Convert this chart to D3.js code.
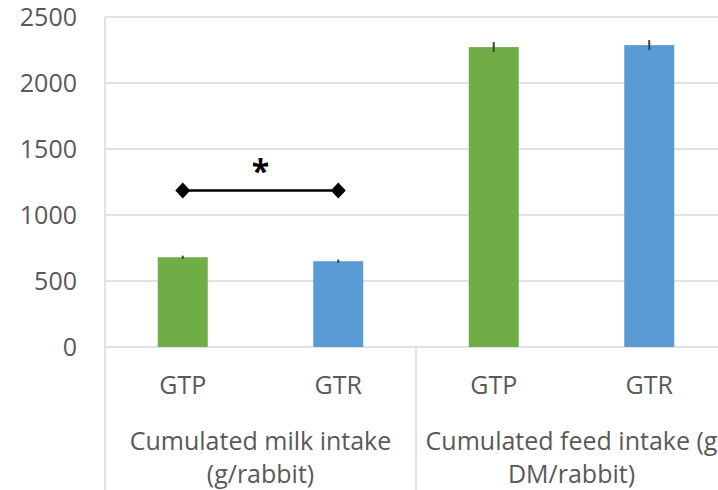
<!DOCTYPE html>
<html>
<head>
<meta charset="utf-8">
<script src="https://cdn.jsdelivr.net/npm/d3@7/dist/d3.min.js"></script>
<style>
  html, body { margin: 0; padding: 0; background: #fff; }
  svg { display: block; font-family: "Open Sans", sans-serif; }
</style>
</head>
<body>
<svg id="chart" width="718" height="490"></svg>
<script>
// Intake measures (outer categories) and treatment groups (inner categories)
const categories = ["Cumulated milk intake (g/rabbit)", "Cumulated feed intake (g DM/rabbit)"];
const categoryLines = [["Cumulated milk intake", "(g/rabbit)"], ["Cumulated feed intake (g", "DM/rabbit)"]];
const groups = ["GTP", "GTR"];
// Means and standard errors per category, one array per group
const gtpValues = [680, 2272];
const gtrValues = [650, 2287];
const gtpErrors = [12, 38];
const gtrErrors = [12, 38];
const yTicks = [0, 500, 1000, 1500, 2000, 2500];
// Significance bracket between the two milk-intake groups
const sigLevel = 1185;
const sigLabel = "*";

const colors = { GTP: "#70AD47", GTR: "#5B9BD5" };
const gridCol = "#D9D9D9";
const textCol = "#595959";

const svg = d3.select("#chart");
const plotLeft = 105, plotRight = 727, plotTop = 17, plotBottom = 347;

const y = d3.scaleLinear().domain([0, 2500]).range([plotBottom, plotTop]);
const x0 = d3.scaleBand().domain(categories).range([plotLeft, plotRight]).padding(0);
const x1 = d3.scaleBand().domain(groups).range([0, x0.bandwidth()]).padding(0);
const barW = 50;

const rows = categories.map((c, i) => groups.map(g => ({
  cat: c, group: g,
  value: g === "GTP" ? gtpValues[i] : gtrValues[i],
  err: g === "GTP" ? gtpErrors[i] : gtrErrors[i]
}))).flat();
const cx = d => x0(d.cat) + x1(d.group) + x1.bandwidth() / 2;

// Horizontal gridlines
svg.append("g").selectAll("line").data(yTicks).join("line")
  .attr("x1", plotLeft).attr("x2", plotRight)
  .attr("y1", d => y(d)).attr("y2", d => y(d))
  .attr("stroke", gridCol).attr("stroke-width", 1.5);

// Y axis labels
const yAxis = d3.axisLeft(y).tickValues(yTicks).tickSize(0).tickPadding(28).tickFormat(d3.format("d"));
const ya = svg.append("g").attr("transform", `translate(${plotLeft},0)`).call(yAxis);
ya.select(".domain").remove();
ya.selectAll("text").attr("fill", textCol).style("font-size", "25px")
  .style("font-family", "'Open Sans', sans-serif");

// Vertical axis line and category dividers
svg.append("line").attr("x1", plotLeft).attr("x2", plotLeft).attr("y1", plotTop).attr("y2", 490)
  .attr("stroke", gridCol).attr("stroke-width", 1.5);
svg.append("g").selectAll("line").data(categories.slice(1)).join("line")
  .attr("x1", d => x0(d)).attr("x2", d => x0(d))
  .attr("y1", plotBottom).attr("y2", 490)
  .attr("stroke", gridCol).attr("stroke-width", 1.5);

// Bars
svg.append("g").selectAll("rect").data(rows).join("rect")
  .attr("x", d => cx(d) - barW / 2).attr("width", barW)
  .attr("y", d => y(d.value)).attr("height", d => y(0) - y(d.value))
  .attr("fill", d => colors[d.group]);

// Error bars
svg.append("g").selectAll("line").data(rows).join("line")
  .attr("x1", cx).attr("x2", cx)
  .attr("y1", d => y(d.value + d.err)).attr("y2", d => y(d.value - d.err))
  .attr("stroke", "#404040").attr("stroke-width", 2);

// Group labels
svg.append("g").selectAll("text").data(rows).join("text")
  .attr("x", cx).attr("y", 394)
  .attr("text-anchor", "middle").attr("fill", textCol)
  .style("font-size", "25px").text(d => d.group);

// Category labels (two lines each)
categories.forEach((c, i) => {
  const t = svg.append("text").attr("text-anchor", "middle").attr("fill", textCol)
    .style("font-size", "25px");
  categoryLines[i].forEach((line, j) => {
    t.append("tspan").attr("x", x0(c) + x0.bandwidth() / 2).attr("y", 450 + j * 33).text(line);
  });
});

// Significance marker between milk-intake groups
const sigPts = rows.filter(d => d.cat === categories[0]).map(d => [cx(d), y(sigLevel)]);
svg.append("line")
  .attr("x1", sigPts[0][0]).attr("x2", sigPts[1][0])
  .attr("y1", sigPts[0][1]).attr("y2", sigPts[1][1])
  .attr("stroke", "#000").attr("stroke-width", 2.5);
svg.append("g").selectAll("path").data(sigPts).join("path")
  .attr("transform", d => `translate(${d[0]},${d[1]})`)
  .attr("d", "M0,-8L7.5,0L0,8L-7.5,0Z").attr("fill", "#000");
svg.append("text")
  .attr("x", (sigPts[0][0] + sigPts[1][0]) / 2).attr("y", 183)
  .attr("text-anchor", "middle").attr("fill", "#000")
  .style("font-size", "32px").style("font-weight", "bold").text(sigLabel);
</script>
</body>
</html>
